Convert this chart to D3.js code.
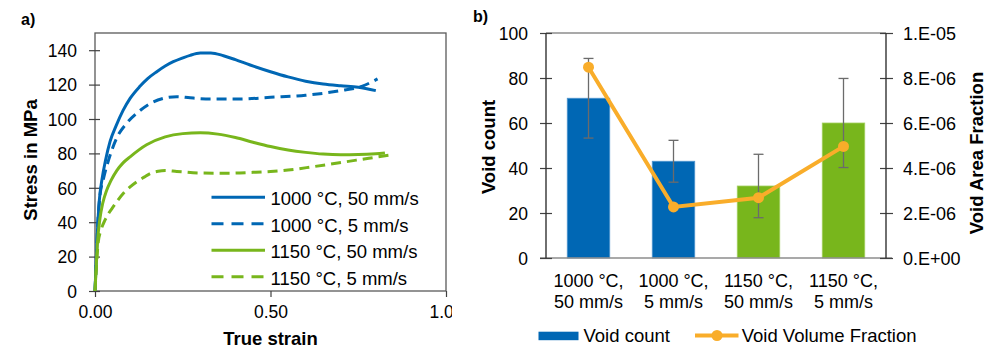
<!DOCTYPE html>
<html>
<head>
<meta charset="utf-8">
<script src="https://cdn.jsdelivr.net/npm/d3@7"></script>
<style>
  body { margin: 0; background: #fff; }
  svg { display: block; font-family: "Liberation Sans", Arial, sans-serif; }
</style>
</head>
<body>
<svg id="chart" width="1004" height="354"></svg>
<script>
// ---------------- DATA ----------------
// Panel a) stress-strain curves [strain, stress MPa]
const curve1000_50 = [[0,0],[0.003,15],[0.007,35],[0.012,52],[0.02,65],[0.03,76],[0.043,87],[0.06,96],[0.08,105],[0.1,112],[0.128,119],[0.15,123.5],[0.176,127.5],[0.2,130.8],[0.223,133.3],[0.25,135.5],[0.271,137],[0.3,138.3],[0.33,138.4],[0.366,136.8],[0.4,134.5],[0.442,131.4],[0.5,127.5],[0.55,124.5],[0.6,122],[0.65,120.3],[0.7,119.3],[0.75,118.5],[0.8,116.5]];
const curve1000_5 = [[0,0],[0.004,20],[0.008,40],[0.014,55],[0.025,66],[0.04,77],[0.062,89],[0.09,97.5],[0.12,103.5],[0.157,109],[0.195,112],[0.233,113],[0.271,112.3],[0.33,111.6],[0.41,111.6],[0.5,112.6],[0.6,113.8],[0.7,116.5],[0.76,119],[0.805,123.3]];
const curve1150_50 = [[0,0],[0.003,12],[0.007,28],[0.014,42],[0.022,51],[0.033,58.5],[0.045,64],[0.062,70],[0.08,74.5],[0.1,78],[0.147,85],[0.2,89.6],[0.25,91.5],[0.3,92],[0.35,91.2],[0.4,89.2],[0.45,86.5],[0.5,84],[0.55,82],[0.6,80.6],[0.65,79.6],[0.7,79.2],[0.75,79.3],[0.8,79.8],[0.826,80.3]];
const curve1150_5 = [[0,0],[0.004,14],[0.009,28],[0.018,36],[0.028,41],[0.04,45.5],[0.052,49],[0.081,56.8],[0.1,60.5],[0.119,63.5],[0.14,66.2],[0.157,68.3],[0.18,69.6],[0.2,70],[0.233,69.5],[0.3,68.6],[0.385,68.5],[0.45,69],[0.5,69.5],[0.55,70.3],[0.622,72.3],[0.717,75.2],[0.78,77.2],[0.84,79]];
const seriesNames = ["1000 °C, 50 mm/s","1000 °C, 5 mm/s","1150 °C, 50 mm/s","1150 °C, 5 mm/s"];
const stressTicks = [0,20,40,60,80,100,120,140];
const strainTicks = [0,0.5,1.0];
const strainTickLabels = ["0.00","0.50","1.00"];

// Panel b)
const categoriesL1 = ["1000 °C,","1000 °C,","1150 °C,","1150 °C,"];
const categoriesL2 = ["50 mm/s","5 mm/s","50 mm/s","5 mm/s"];
const categories = ["c1","c2","c3","c4"];
const voidCount = [71,43,32,60];
const voidCountErr = [17.7,9.3,14.1,19.8];
const voidFraction = [8.48e-6,2.27e-6,2.68e-6,4.96e-6];
const countTicks = [0,20,40,60,80,100];
const fractionTicks = [0,2e-6,4e-6,6e-6,8e-6,1e-5];
const fractionTickLabels = ["0.E+00","2.E-06","4.E-06","6.E-06","8.E-06","1.E-05"];

// ---------------- STYLE ----------------
const BLUE = "#0067B4", GREEN = "#78B61C", ORANGE = "#F9AD2A";
const svg = d3.select("#chart");

// ================= Panel a =================
const xL = d3.scaleLinear().domain([0,1]).range([95,446]);
const yL = d3.scaleLinear().domain([0,150]).range([291,33]);

svg.append("text").attr("x",21).attr("y",25).attr("font-size",16).attr("font-weight","bold").text("a)");

// box
svg.append("rect").attr("x",xL(0)).attr("y",yL(150)).attr("width",xL(1)-xL(0)).attr("height",yL(0)-yL(150))
  .attr("fill","none").attr("stroke","#595959").attr("stroke-width",1.3);

// y axis
const gyL = svg.append("g").attr("transform",`translate(${xL(0)+5},0)`)
  .call(d3.axisLeft(yL).tickValues(stressTicks).tickSize(11).tickPadding(12).tickFormat(d3.format("d")));
gyL.select(".domain").remove();
gyL.selectAll("line").attr("stroke","#404040").attr("stroke-width",1.2);
gyL.selectAll("text").attr("font-size",17.5).attr("font-family","Liberation Sans, Arial, sans-serif").attr("fill","#000").attr("dy","0.36em");

// x axis
svg.append("clipPath").attr("id","clipA").append("rect").attr("x",0).attr("y",0).attr("width",452).attr("height",354);
const gxL = svg.append("g").attr("transform",`translate(0,${yL(0)})`).attr("clip-path","url(#clipA)")
  .call(d3.axisBottom(xL).tickValues(strainTicks).tickSize(6).tickFormat((d,i)=>strainTickLabels[i]));
gxL.select(".domain").remove();
gxL.selectAll("line").attr("stroke","#404040").attr("stroke-width",1.2);
gxL.selectAll("text").attr("font-size",17.5).attr("font-family","Liberation Sans, Arial, sans-serif").attr("fill","#000").attr("y",26.5).attr("dy",0);

svg.append("text").attr("x",270.5).attr("y",345).attr("text-anchor","middle").attr("font-size",18.5).attr("font-weight","bold").text("True strain");
svg.append("text").attr("transform","translate(37,160) rotate(-90)").attr("text-anchor","middle").attr("font-size",18.5).attr("font-weight","bold").text("Stress in MPa");

const lineL = d3.line().x(d=>xL(d[0])).y(d=>yL(d[1])).curve(d3.curveMonotoneX);
const curves = [
  {data: curve1000_50, color: BLUE, dash: null},
  {data: curve1000_5, color: BLUE, dash: "10,6"},
  {data: curve1150_50, color: GREEN, dash: null},
  {data: curve1150_5, color: GREEN, dash: "10,6"}
];
const plotA = svg.append("g");
curves.forEach(c => {
  plotA.append("path").attr("d",lineL(c.data)).attr("fill","none").attr("stroke",c.color)
    .attr("stroke-width",3).attr("stroke-dasharray",c.dash);
});

// legend a
const legA = svg.append("g");
seriesNames.forEach((n,i) => {
  const y = 197.3 + i*26.5;
  legA.append("line").attr("x1",211.5).attr("x2",265).attr("y1",y).attr("y2",y)
    .attr("stroke",curves[i].color).attr("stroke-width",3).attr("stroke-dasharray",curves[i].dash ? "12,8" : null);
  legA.append("text").attr("x",270.5).attr("y",y+7.7).attr("font-size",18.5).text(n);
});

// ================= Panel b =================
const xB = d3.scaleBand().domain(categories).range([546,886]).paddingInner(0.5).paddingOuter(0.25);
const yB = d3.scaleLinear().domain([0,100]).range([258,33]);
const yR = d3.scaleLinear().domain([0,1e-5]).range([258,33]);

svg.append("text").attr("x",473).attr("y",22).attr("font-size",16).attr("font-weight","bold").text("b)");

// top and bottom borders (gray)
svg.append("line").attr("x1",546).attr("x2",886).attr("y1",yB(100)).attr("y2",yB(100)).attr("stroke","#8c8c8c").attr("stroke-width",1.3);

// bars
svg.append("g").selectAll("rect").data(voidCount).join("rect")
  .attr("x",(d,i)=>xB(categories[i])).attr("width",xB.bandwidth())
  .attr("y",d=>yB(d)).attr("height",d=>yB(0)-yB(d))
  .attr("fill",(d,i)=> i<2 ? BLUE : GREEN)
  .attr("stroke",(d,i)=> i<2 ? "#4f95d0" : "#a3d060").attr("stroke-width",0.8);

svg.append("line").attr("x1",540).attr("x2",892).attr("y1",yB(0)).attr("y2",yB(0)).attr("stroke","#8c8c8c").attr("stroke-width",1.3);

// error bars
const errG = svg.append("g").attr("stroke","#6b6b6b").attr("stroke-width",1.3);
voidCount.forEach((v,i) => {
  const cx = xB(categories[i]) + xB.bandwidth()/2;
  const e = voidCountErr[i];
  errG.append("line").attr("x1",cx).attr("x2",cx).attr("y1",yB(v+e)).attr("y2",yB(v-e));
  errG.append("line").attr("x1",cx-5).attr("x2",cx+5).attr("y1",yB(v+e)).attr("y2",yB(v+e));
  errG.append("line").attr("x1",cx-5).attr("x2",cx+5).attr("y1",yB(v-e)).attr("y2",yB(v-e));
});

// left axis
const gyB = svg.append("g").attr("transform",`translate(552,0)`)
  .call(d3.axisLeft(yB).tickValues(countTicks).tickSize(12).tickPadding(12).tickFormat(d3.format("d")));
gyB.select(".domain").remove();
gyB.selectAll("line").attr("stroke","#404040").attr("stroke-width",1.2);
gyB.selectAll("text").attr("font-size",17.5).attr("font-family","Liberation Sans, Arial, sans-serif").attr("fill","#000").attr("dy","0.36em");
svg.append("line").attr("x1",546).attr("x2",546).attr("y1",yB(100)).attr("y2",yB(0)).attr("stroke","#333").attr("stroke-width",1.4);

// right axis
const gyR = svg.append("g").attr("transform",`translate(880,0)`)
  .call(d3.axisRight(yR).tickValues(fractionTicks).tickSize(13).tickPadding(10).tickFormat((d,i)=>fractionTickLabels[i]));
gyR.select(".domain").remove();
gyR.selectAll("line").attr("stroke","#404040").attr("stroke-width",1.2);
gyR.selectAll("text").attr("font-size",18).attr("font-family","Liberation Sans, Arial, sans-serif").attr("fill","#000").attr("dy","0.36em");
svg.append("line").attr("x1",886).attr("x2",886).attr("y1",yB(100)).attr("y2",yB(0)).attr("stroke","#333").attr("stroke-width",1.4);

// category labels
const catG = svg.append("g").attr("font-size",18).attr("text-anchor","middle");
categories.forEach((c,i) => {
  const cx = xB(c) + xB.bandwidth()/2;
  catG.append("text").attr("x",cx).attr("y",286.7).text(categoriesL1[i]);
  catG.append("text").attr("x",cx).attr("y",308.3).text(categoriesL2[i]);
});

// line series
const lineB = d3.line().x((d,i)=>xB(categories[i])+xB.bandwidth()/2).y(d=>yR(d));
svg.append("path").attr("d",lineB(voidFraction)).attr("fill","none").attr("stroke",ORANGE).attr("stroke-width",4);
svg.append("g").selectAll("circle").data(voidFraction).join("circle")
  .attr("cx",(d,i)=>xB(categories[i])+xB.bandwidth()/2).attr("cy",d=>yR(d)).attr("r",5.5).attr("fill",ORANGE);

// axis titles
svg.append("text").attr("transform","translate(495,147) rotate(-90)").attr("text-anchor","middle").attr("font-size",18.5).attr("font-weight","bold").text("Void count");
svg.append("text").attr("transform","translate(983,153) rotate(-90)").attr("text-anchor","middle").attr("font-size",18.5).attr("font-weight","bold").text("Void Area Fraction");

// legend b
svg.append("rect").attr("x",538.5).attr("y",331.7).attr("width",40).attr("height",8.5).attr("fill",BLUE);
svg.append("text").attr("x",583.5).attr("y",341.7).attr("font-size",18.5).text("Void count");
svg.append("line").attr("x1",695).attr("x2",738.5).attr("y1",335.5).attr("y2",335.5).attr("stroke",ORANGE).attr("stroke-width",4);
svg.append("circle").attr("cx",717).attr("cy",335.5).attr("r",5.5).attr("fill",ORANGE);
svg.append("text").attr("x",741.7).attr("y",341.7).attr("font-size",18.5).text("Void Volume Fraction");
</script>
</body>
</html>
